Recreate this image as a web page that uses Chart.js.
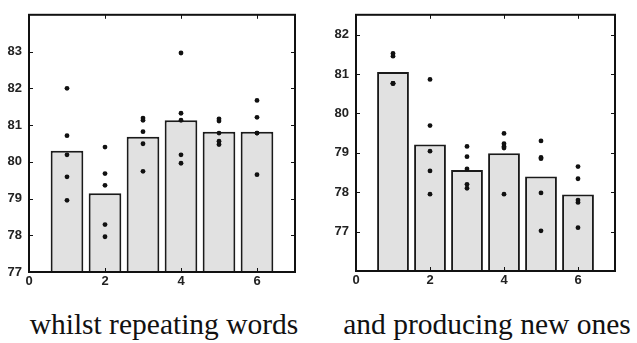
<!DOCTYPE html>
<html>
<head>
<meta charset="utf-8">
<script src="https://cdn.jsdelivr.net/npm/chart.js@4/dist/chart.umd.min.js"></script>
<style>
  html, body { margin: 0; padding: 0; background: #fff; }
  body { width: 637px; height: 343px; position: relative; overflow: hidden; }
  .panel { position: absolute; top: 0; width: 310px; height: 300px; }
  .caption {
    position: absolute; top: 309px; width: 320px; text-align: center;
    font-family: "Liberation Serif", "Times New Roman", serif;
    font-size: 29.5px; line-height: 30px; color: #111; white-space: nowrap;
  }
</style>
</head>
<body>
<div class="panel" style="left:0"><canvas id="leftChart"></canvas></div>
<div class="panel" style="left:320px"><canvas id="rightChart"></canvas></div>
<div class="caption" style="left:4px">whilst repeating words</div>
<div class="caption" style="left:327px">and producing new ones</div>

<script>
  // x positions of the six bars
  const categories = [1, 2, 3, 4, 5, 6];
  const xTicks = [0, 2, 4, 6];

  // left panel: repeating words
  const repeatMeans = [80.30, 79.14, 80.68, 81.13, 80.82, 80.82];
  const repeatPoints = [
    [82.0, 80.71, 80.19, 79.59, 78.95],
    [80.40, 79.68, 79.36, 78.29, 77.96],
    [81.19, 81.13, 80.82, 80.49, 79.74],
    [82.96, 81.32, 81.13, 80.19, 79.96],
    [81.17, 81.11, 80.78, 80.56, 80.47],
    [81.67, 81.21, 80.78, 80.78, 79.65],
  ];
  const repeatYTicks = [77, 78, 79, 80, 81, 82, 83];

  // right panel: producing new ones
  const newMeans = [81.05, 79.21, 78.56, 78.99, 78.40, 77.94];
  const newPoints = [
    [81.52, 81.45, 80.76, 80.76, 80.76],
    [80.86, 79.69, 79.04, 78.54, 77.95],
    [79.16, 78.90, 78.59, 78.20, 78.10],
    [79.49, 79.23, 79.16, 79.12, 77.95],
    [79.30, 78.88, 78.85, 77.98, 77.02],
    [78.65, 78.34, 77.80, 77.74, 77.10],
  ];
  const newYTicks = [77, 78, 79, 80, 81, 82];

  // box around the plot plus small inward tick marks on all four sides
  const framePlugin = {
    id: "frame",
    afterDatasetsDraw(chart) {
      const { ctx, chartArea: a, scales } = chart;
      ctx.save();
      ctx.strokeStyle = "#111";
      ctx.lineWidth = 1;
      scales.y.ticks.forEach((t) => {
        const py = Math.round(scales.y.getPixelForValue(t.value)) + 0.5;
        ctx.beginPath();
        ctx.moveTo(a.left, py); ctx.lineTo(a.left + 4, py);
        ctx.moveTo(a.right, py); ctx.lineTo(a.right - 4, py);
        ctx.stroke();
      });
      scales.x.ticks.forEach((t) => {
        const px = Math.round(scales.x.getPixelForValue(t.value)) + 0.5;
        ctx.beginPath();
        ctx.moveTo(px, a.bottom); ctx.lineTo(px, a.bottom - 4);
        ctx.moveTo(px, a.top); ctx.lineTo(px, a.top + 4);
        ctx.stroke();
      });
      ctx.lineWidth = 2;
      ctx.strokeRect(a.left, a.top, a.right - a.left, a.bottom - a.top);
      ctx.restore();
    },
  };

  function makePanel(canvasId, means, points, yMin, yMax, yTicks, axisWidth, axisHeight, padTop) {
    const barData = categories.map((c, i) => ({ x: c, y: means[i] }));
    const dotData = [];
    categories.forEach((c, i) => {
      points[i].forEach((v) => dotData.push({ x: c, y: v }));
    });

    const tickFont = { family: "'Liberation Sans', Arial, sans-serif", size: 13, weight: "bold" };

    return new Chart(document.getElementById(canvasId), {
      type: "bar",
      data: {
        datasets: [
          {
            type: "scatter",
            data: dotData,
            order: 1,
            pointRadius: 2.4,
            pointBackgroundColor: "#111",
            pointBorderWidth: 0,
            showLine: false,
          },
          {
            type: "bar",
            data: barData,
            order: 2,
            base: yMin,
            backgroundColor: "#e1e1e1",
            borderColor: "#1a1a1a",
            borderWidth: 2,
            borderSkipped: "start",
            categoryPercentage: 1,
            barPercentage: 0.86,
          },
        ],
      },
      options: {
        responsive: true,
        maintainAspectRatio: false,
        animation: false,
        layout: { padding: { top: padTop, right: 15, left: 0, bottom: 0 } },
        plugins: { legend: { display: false }, tooltip: { enabled: false } },
        scales: {
          x: {
            type: "linear",
            min: 0,
            max: 7,
            offset: false,
            grid: { display: false, drawTicks: false, offset: false },
            border: { display: false },
            afterBuildTicks: (s) => { s.ticks = xTicks.map((v) => ({ value: v })); },
            afterFit: (s) => { s.height = axisHeight; },
            ticks: { color: "#222", font: tickFont, padding: 2 },
          },
          y: {
            min: yMin,
            max: yMax,
            grid: { display: false, drawTicks: false },
            border: { display: false },
            afterBuildTicks: (s) => { s.ticks = yTicks.map((v) => ({ value: v })); },
            afterFit: (s) => { s.width = axisWidth; },
            ticks: { color: "#222", font: tickFont, padding: 7 },
          },
        },
      },
      plugins: [framePlugin],
    });
  }

  makePanel("leftChart", repeatMeans, repeatPoints, 77, 84, repeatYTicks, 29, 28, 6);
  makePanel("rightChart", newMeans, newPoints, 76, 82.5, newYTicks, 36, 29, 5);
</script>
</body>
</html>
